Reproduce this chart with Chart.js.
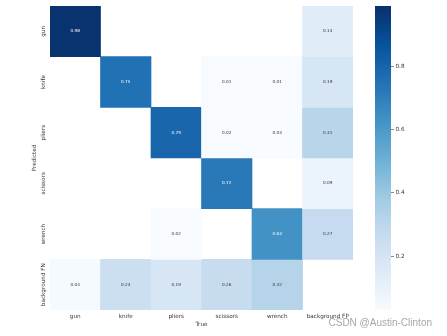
<!DOCTYPE html>
<html>
<head>
<meta charset="utf-8">
<script src="https://cdn.jsdelivr.net/npm/chart.js@4.4.0/dist/chart.umd.min.js"></script>
<style>body{margin:0;background:#fff}</style>
</head>
<body>
<canvas id="cm" width="447" height="336"></canvas>
<script>
// confusion matrix: rows = predicted, columns = true
const trueLabels = ['gun', 'knife', 'pliers', 'scissors', 'wrench', 'background FP'];
const predLabels = ['gun', 'knife', 'pliers', 'scissors', 'wrench', 'background FN'];
const gunRow = [0.98, null, null, null, null, 0.14];
const knifeRow = [null, 0.75, null, 0.01, 0.01, 0.19];
const pliersRow = [null, null, 0.79, 0.02, 0.03, 0.31];
const scissorsRow = [null, null, null, 0.72, null, 0.09];
const wrenchRow = [null, null, 0.02, null, 0.63, 0.27];
const bgFNRow = [0.04, 0.24, 0.19, 0.26, 0.32, null];
const colorbarTicks = [0.2, 0.4, 0.6, 0.8];

const rows = [gunRow, knifeRow, pliersRow, scissorsRow, wrenchRow, bgFNRow];
const vmin = 0.03, vmax = 0.99;

// matplotlib "Blues"
const blues = ['#f7fbff', '#deebf7', '#c6dbef', '#9ecae1', '#6baed6', '#4292c6', '#2171b5', '#08519c', '#08306b'];
function hex(c) { return [1, 3, 5].map(i => parseInt(c.substr(i, 2), 16)); }
function norm(v) { return Math.min(1, Math.max(0, (v - vmin) / (vmax - vmin))); }
function blue(v) {
    const t = norm(v) * (blues.length - 1);
    const i = Math.min(Math.floor(t), blues.length - 2);
    const f = t - i;
    const a = hex(blues[i]), b = hex(blues[i + 1]);
    const c = a.map((x, k) => Math.round(x + (b[k] - x) * f));
    return 'rgb(' + c.join(',') + ')';
}

const FONT = 'DejaVu Sans';

const datasets = rows.map((vals, r) => ({
    label: predLabels[r],
    data: vals.map(v => v == null ? null : [5 - r, 6 - r]),
    values: vals,
    backgroundColor: vals.map(v => v == null ? 'transparent' : blue(v)),
    borderWidth: 0,
    grouped: false,
    barPercentage: 1,
    categoryPercentage: 1
}));

const cellLabels = {
    id: 'cellLabels',
    afterDatasetsDraw(chart) {
        const ctx = chart.ctx;
        ctx.save();
        ctx.font = '4.2px "' + FONT + '"';
        ctx.textAlign = 'center';
        ctx.textBaseline = 'middle';
        chart.data.datasets.forEach((ds, i) => {
            chart.getDatasetMeta(i).data.forEach((el, j) => {
                const v = ds.values[j];
                if (v == null) return;
                const p = el.getCenterPoint();
                ctx.fillStyle = norm(v) > 0.55 ? '#ffffff' : '#333333';
                ctx.fillText(v.toFixed(2), p.x, p.y);
            });
        });
        ctx.restore();
    }
};

const colorbar = {
    id: 'colorbar',
    afterDraw(chart) {
        const s = chart.scales.cb;
        const ctx = chart.ctx;
        const top = s.getPixelForValue(vmax), bottom = s.getPixelForValue(vmin);
        const g = ctx.createLinearGradient(0, bottom, 0, top);
        blues.forEach((c, i) => g.addColorStop(i / (blues.length - 1), c));
        ctx.save();
        ctx.fillStyle = g;
        ctx.fillRect(s.left - 16, top, 16, bottom - top);
        ctx.font = '10px "Liberation Sans"';
        ctx.fillStyle = 'rgba(150,150,150,0.85)';
        ctx.textAlign = 'right';
        ctx.textBaseline = 'middle';
        ctx.fillText('CSDN @Austin-Clinton', 432, 323);
        ctx.restore();
    }
};

new Chart(document.getElementById('cm'), {
    type: 'bar',
    data: { labels: trueLabels, datasets: datasets },
    options: {
        responsive: false,
        animation: false,
        layout: { padding: { top: 6, left: 0, right: 0, bottom: 0 } },
        plugins: { legend: { display: false }, tooltip: { enabled: false } },
        scales: {
            x: {
                grid: { display: false, drawTicks: false },
                border: { display: false },
                ticks: { color: '#333', font: { family: FONT, size: 5.7 }, padding: 3, maxRotation: 0 },
                title: { display: true, text: 'True', color: '#333', font: { family: FONT, size: 5.7 }, padding: { top: 0, bottom: 8.5 } },
                afterFit: s => { s.height = 26; }
            },
            y: {
                min: 0, max: 6,
                grid: { display: false, drawTicks: false },
                border: { display: false },
                afterBuildTicks: s => { s.ticks = predLabels.map((n, i) => ({ value: 5.5 - i })); },
                ticks: {
                    color: '#333', font: { family: FONT, size: 5.7 },
                    minRotation: 90, maxRotation: 90, crossAlign: 'center', padding: -15,
                    callback: v => predLabels[Math.round(5.5 - v)]
                },
                title: { display: true, text: 'Predicted', color: '#333', font: { family: FONT, size: 5.7 }, padding: { top: 31, bottom: 0 } },
                afterFit: s => { s.width = 50; }
            },
            gap: {
                type: 'linear', position: 'right', weight: 0,
                grid: { display: false }, border: { display: false },
                ticks: { display: false },
                afterFit: s => { s.width = 38; }
            },
            cb: {
                type: 'linear', position: 'right', weight: 1,
                min: vmin, max: vmax,
                grid: { drawOnChartArea: false, tickLength: 3, color: '#333', tickWidth: 0.6 },
                border: { display: false },
                afterBuildTicks: s => { s.ticks = colorbarTicks.map(v => ({ value: v })); },
                ticks: { color: '#333', font: { family: FONT, size: 5.7 }, padding: 1.5, callback: v => v.toFixed(1) },
                afterFit: s => { s.width = 56; }
            }
        }
    },
    plugins: [cellLabels, colorbar]
});
</script>
</body>
</html>
